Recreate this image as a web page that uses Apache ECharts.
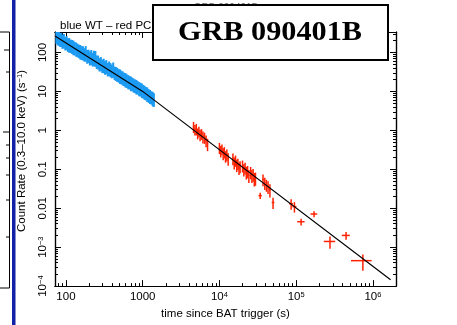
<!DOCTYPE html>
<html><head><meta charset="utf-8">
<script src="https://cdn.jsdelivr.net/npm/echarts@6/dist/echarts.min.js"></script>
<style>html,body{margin:0;padding:0;background:#fff}#c{width:457px;height:325px}</style>
</head><body><div id="c"></div>
<script>
// ---- data ----
const xTickValues = [100, 1000, 1e4, 1e5, 1e6];
const xTickLabels = ['100', '1000', '10{s|4}', '10{s|5}', '10{s|6}'];
const yTickValues = [1e-4, 1e-3, 0.01, 0.1, 1, 10, 100];
const yTickLabels = ['10{s|−4}', '10{s|−3}', '0.01', '0.1', '1', '10', '100'];

// Windowed Timing (blue)
const wtTime = [75,78,81,84,87,90,94,98,102,106,110,115,120,125,130,136,142,148,154,160,167,174,181,189,197,205,214,223,232,242,252,263,274,285,297,310,323,336,350,365,380,396,413,430,448,467,487,507,528,550,573,597,622,648,675,703,732,763,795,828,863,899,936,975,1016,1058,1102,1148,1196,1246,1298,1352,1400];
const wtRate = [258,228,232,206,210,186,194,168,174,155,152,144,138,131,124,118,112,106,101,96,95,86,92,77,79,70,74,65,70,68,56,55,48,50,44,45,40,42,36,38,35,32.5,35,29,28,26.5,25,23.8,22.6,21.4,20.2,19.3,18.3,17.2,16.6,15.6,15,14.1,13.5,12.8,12.3,11.4,11.1,10.4,9.8,9.2,8.7,8.2,7.6,7.2,6.8,6.3,6.0];
const wtErr = [0.55,0.50,0.56,0.49,0.52,0.50,0.54,0.49,0.52,0.50,
               0.54,0.49,0.51,0.54,0.49,0.52,0.50,0.49,0.54,0.51,
               0.52,0.49,0.58,0.50,0.49,0.52,0.56,0.50,0.58,0.60,
               0.49,0.51,0.48,0.52,0.49,0.54,0.50,0.52,0.49,0.54,
               0.52,0.50,0.58,0.49,0.51,0.52,0.49,0.54,0.50,0.52,
               0.49,0.54,0.50,0.52,0.49,0.54,0.50,0.52,0.50,0.54,
               0.49,0.52,0.50,0.54,0.50,0.52,0.49,0.54,0.50,0.52,
               0.49,0.54,0.50];

// Photon Counting (red)
const pcTime = [4600,4800,5000,5200,5400,5600,5850,6100,6400,6700,7000,
                10000,10400,10800,11200,11600,12000,12500,13000,
                15000,15600,16200,16800,17400,18000,18600,
                20000,20800,21600,22400,23300,24200,
                25500,26500,27500,28500,29500,
                34000,
                37000,39000,41000,43000,45500,
                50000,
                86000,95000,116000,171000,276000,447000,740000];
const pcRate = [1.25,1.05,1.1,0.85,0.95,0.78,0.82,0.7,0.66,0.55,0.45,
                0.36,0.30,0.33,0.26,0.28,0.22,0.24,0.19,
                0.19,0.15,0.17,0.13,0.14,0.11,0.12,
                0.125,0.10,0.11,0.085,0.09,0.07,
                0.085,0.07,0.075,0.058,0.06,
                0.021,
                0.055,0.045,0.04,0.036,0.03,
                0.014,
                0.013,0.011,0.0045,0.0071,0.0014,0.002,0.00045];
const pcErr = [0.32,0.30,0.33,0.31,0.30,0.33,0.31,0.34,0.32,0.33,0.35,
               0.32,0.33,0.31,0.34,0.32,0.33,0.34,0.35,
               0.33,0.34,0.32,0.35,0.33,0.35,0.34,
               0.34,0.35,0.33,0.36,0.35,0.37,
               0.35,0.37,0.36,0.38,0.37,
               0.18,
               0.33,0.35,0.34,0.36,0.37,
               0.32,
               0.30,0.30,0.20,0.17,0.35,0.23,0.45];
const pcTErr = [0.02,0.02,0.02,0.02,0.02,0.02,0.02,0.02,0.02,0.02,0.02,
                0.02,0.02,0.02,0.02,0.02,0.02,0.02,0.02,
                0.02,0.02,0.02,0.02,0.02,0.02,0.02,
                0.02,0.02,0.02,0.02,0.02,0.02,
                0.02,0.02,0.02,0.02,0.02,
                0.05,
                0.025,0.025,0.025,0.025,0.025,
                0.04,
                0.06,0.06,0.11,0.10,0.17,0.12,0.30];

// broken power-law model (black line)
const modelTime = [72, 1000, 1.7e6];
const modelRate = [266, 10, 1.45e-4];

// ---- build ----
const X_MIN = 72, X_MAX = 2.0e6, Y_MIN = 1e-4, Y_MAX = 335;
const xMinor = [], yMinor = [];
for (let e = 1; e <= 6; e++) for (let m = 2; m <= 9; m++) { const v = m * Math.pow(10, e); if (v > X_MIN && v < X_MAX) xMinor.push(v); }
for (let e = -4; e <= 2; e++) for (let m = 2; m <= 9; m++) { const v = m * Math.pow(10, e); if (v > Y_MIN && v < Y_MAX) yMinor.push(v); }

const FONT = 'Liberation Sans, Arial, sans-serif';
const rich = { s: { fontSize: 7.5, fontFamily: FONT, color: '#000', verticalAlign: 'top', lineHeight: 9 } };
function lab(vals, labels) { return function (v) { for (let i = 0; i < vals.length; i++) if (Math.abs(Math.log10(v) - Math.log10(vals[i])) < 1e-6) return labels[i]; return ''; }; }

function axis(kind, pos, ticks, len, labels) {
  const isX = kind === 'x';
  const o = {
    type: 'log', logBase: 10, position: pos,
    min: isX ? X_MIN : Y_MIN, max: isX ? X_MAX : Y_MAX,
    splitLine: { show: false },
    axisLine: { show: true, lineStyle: { color: '#000', width: 1.2 } },
    axisTick: { show: true, inside: true, length: len, customValues: ticks, lineStyle: { color: '#000', width: 1 } },
    axisLabel: { show: false }
  };
  if (labels) {
    o.axisLabel = {
      show: true, customValues: isX ? xTickValues : yTickValues,
      formatter: isX ? lab(xTickValues, xTickLabels) : lab(yTickValues, yTickLabels),
      color: '#000', fontSize: 11.5, fontFamily: FONT, margin: isX ? 5 : 6,
      rotate: isX ? 0 : 90, rich: rich
    };
  }
  return o;
}

const xAxes = [
  Object.assign(axis('x', 'bottom', xTickValues, 6, true), {
    name: 'time since BAT trigger (s)', nameLocation: 'middle', nameGap: 17,
    nameTextStyle: { color: '#000', fontSize: 11.5, fontFamily: FONT }
  }),
  axis('x', 'bottom', xMinor, 3, false),
  axis('x', 'top', xTickValues, 6, false),
  axis('x', 'top', xMinor, 3, false)
];
const yAxes = [
  axis('y', 'left', yTickValues, 6, true),
  axis('y', 'left', yMinor, 3, false),
  axis('y', 'right', yTickValues, 6, false),
  axis('y', 'right', yMinor, 3, false)
];

// logSym: error bar drawn v/(1+e) .. v*(1+e); otherwise v*(1-e) .. v*(1+e)
function errRender(color, width, logSym) {
  return function (params, api) {
    const t = api.value(0), v = api.value(1), e = api.value(2), te = api.value(3);
    const lo = logSym ? v / (1 + e) : v * (1 - e);
    const top = api.coord([t, v * (1 + e)]), bot = api.coord([t, lo]);
    const children = [{ type: 'line', shape: { x1: top[0], y1: top[1], x2: bot[0], y2: bot[1] }, style: { stroke: color, lineWidth: width } }];
    if (te > 0) {
      const l = api.coord([t * (1 - te), v]), r = api.coord([t * (1 + te), v]);
      children.push({ type: 'line', shape: { x1: l[0], y1: l[1], x2: r[0], y2: r[1] }, style: { stroke: color, lineWidth: width } });
    }
    return { type: 'group', children: children };
  };
}

const wtData = wtTime.map((t, i) => [t, wtRate[i], wtErr[i], 0]);
const pcData = pcTime.map((t, i) => [t, pcRate[i], pcErr[i], pcTErr[i]]);
const modelData = modelTime.map((t, i) => [t, modelRate[i]]);

const chart = echarts.init(document.getElementById('c'), null, { renderer: 'canvas' });
chart.setOption({
  animation: false,
  backgroundColor: '#fff',
  title: { text: 'blue WT – red PC', left: 55, top: 15, textStyle: { fontSize: 11.5, fontWeight: 'normal', color: '#000', fontFamily: FONT } },
  grid: { left: 55, top: 32, right: 61, bottom: 31, containLabel: false },
  xAxis: xAxes,
  yAxis: yAxes,
  series: [
    { type: 'custom', name: 'WT', xAxisIndex: 0, yAxisIndex: 0, data: wtData, renderItem: errRender('#1b9af2', 2, true), encode: { x: 0, y: 1 }, clip: true, z: 2 },
    { type: 'custom', name: 'PC', xAxisIndex: 0, yAxisIndex: 0, data: pcData, renderItem: errRender('#ff2200', 1.5, false), encode: { x: 0, y: 1 }, clip: true, z: 2 },
    { type: 'line', name: 'model', xAxisIndex: 0, yAxisIndex: 0, data: modelData, showSymbol: false, symbol: 'none', lineStyle: { color: '#000', width: 1.2 }, clip: true, z: 3 }
  ],
  graphic: [
    { type: 'text', z: 50, style: { text: 'GRB 090401B', x: 226, y: 8, fill: '#666', font: '10px ' + FONT, align: 'center', verticalAlign: 'middle' } },
    { type: 'rect', z: 100, shape: { x: 153, y: 5, width: 235, height: 55 }, style: { fill: '#fff', stroke: '#000', lineWidth: 2 } },
    { type: 'text', z: 101, x: 270, y: 33, scaleX: 1.12, style: { text: 'GRB 090401B', x: 0, y: 0, fill: '#000', font: 'bold 27px "Liberation Serif", serif', align: 'center', verticalAlign: 'middle' } },
    { type: 'polyline', z: 100, shape: { points: [[0, 32], [9.5, 32], [9.5, 288], [0, 288]] }, style: { stroke: '#000', lineWidth: 1, fill: null } },
    { type: 'line', z: 100, shape: { x1: 4, y1: 50, x2: 9.5, y2: 50 }, style: { stroke: '#000', lineWidth: 1 } },
    { type: 'line', z: 100, shape: { x1: 6, y1: 72, x2: 9.5, y2: 72 }, style: { stroke: '#000', lineWidth: 1 } },
    { type: 'line', z: 100, shape: { x1: 3, y1: 132, x2: 9.5, y2: 132 }, style: { stroke: '#000', lineWidth: 1 } },
    { type: 'line', z: 100, shape: { x1: 6, y1: 145, x2: 9.5, y2: 145 }, style: { stroke: '#000', lineWidth: 1 } },
    { type: 'line', z: 100, shape: { x1: 6, y1: 158, x2: 9.5, y2: 158 }, style: { stroke: '#000', lineWidth: 1 } },
    { type: 'line', z: 100, shape: { x1: 6, y1: 175, x2: 9.5, y2: 175 }, style: { stroke: '#000', lineWidth: 1 } },
    { type: 'line', z: 100, shape: { x1: 6, y1: 200, x2: 9.5, y2: 200 }, style: { stroke: '#000', lineWidth: 1 } },
    { type: 'line', z: 100, shape: { x1: 6, y1: 237, x2: 9.5, y2: 237 }, style: { stroke: '#000', lineWidth: 1 } },
    { type: 'rect', z: 100, shape: { x: 12, y: 0, width: 3.5, height: 325 }, style: { fill: '#1222a6' } },
    { type: 'text', z: 100, x: 22, y: 151, rotation: Math.PI / 2, style: { text: 'Count Rate (0.3–10.0 keV) (s{s|−1})', fill: '#000', font: '11.5px ' + FONT, align: 'center', verticalAlign: 'middle', rich: { s: { fontSize: 7.5, fontFamily: FONT, verticalAlign: 'top', lineHeight: 9 } } } }
  ]
});
</script>
</body></html>
